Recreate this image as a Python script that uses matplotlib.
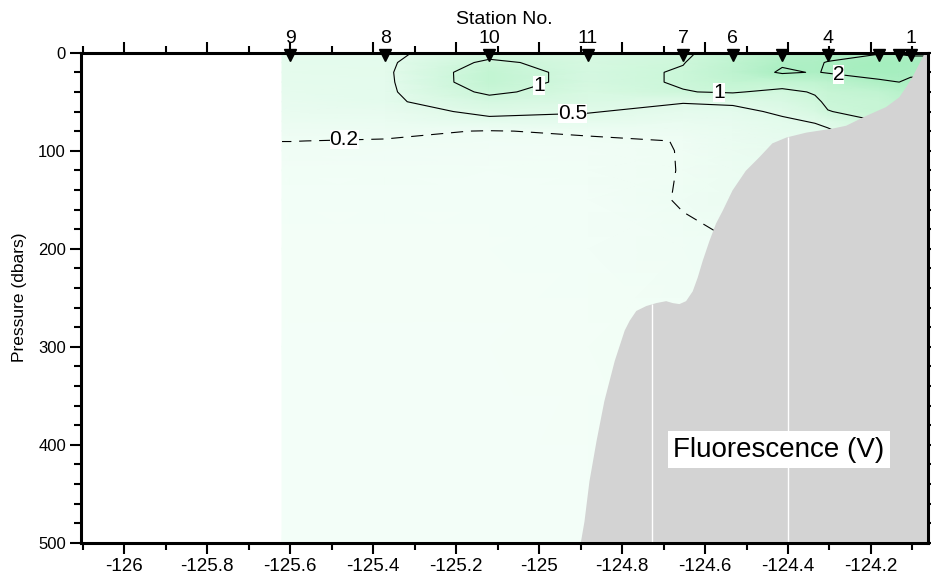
import numpy as np
import matplotlib
matplotlib.use("Agg")
import matplotlib.pyplot as plt
from matplotlib.colors import LinearSegmentedColormap
from matplotlib.transforms import blended_transform_factory

plt.rcParams['font.family'] = ['Liberation Sans', 'DejaVu Sans']

# station positions (longitude) and names along the section
station_lon = [-125.600, -125.371, -125.120, -124.882, -124.653, -124.533,
               -124.414, -124.304, -124.180, -124.132, -124.104]
station_name = ['9', '8', '10', '11', '7', '6', '', '4', '', '', '1']

# gridded fluorescence (V): rows = pressure, columns = grid_lon
grid_lon = [-125.62, -125.600, -125.371, -125.120, -124.882, -124.653, -124.533,
            -124.414, -124.335, -124.304, -124.180, -124.132, -124.104, -124.05]
grid_depth = [0, 10, 20, 30, 40, 50, 60, 70, 80, 90, 100, 120, 150, 200, 300, 500]
fluor = [
    [0.40, 0.40, 0.40, 0.80, 0.72, 0.90, 1.30, 1.70, 1.78, 1.85, 1.95, 1.95, 1.90, 1.90],
    [0.40, 0.40, 0.42, 1.10, 0.78, 0.98, 1.40, 1.90, 1.95, 2.02, 2.30, 2.25, 2.20, 2.20],
    [0.40, 0.40, 0.43, 1.30, 0.80, 1.05, 1.45, 2.10, 1.96, 2.05, 2.25, 2.20, 2.10, 2.10],
    [0.40, 0.40, 0.42, 1.30, 0.80, 1.05, 1.30, 1.30, 1.40, 1.50, 1.90, 2.00, 1.90, 1.90],
    [0.38, 0.38, 0.42, 1.10, 0.74, 0.98, 1.05, 0.85, 1.05, 1.20, 1.40, 1.60, 1.60, 1.60],
    [0.35, 0.35, 0.42, 0.80, 0.65, 0.52, 0.55, 0.70, 0.90, 1.10, 1.20, 1.40, 1.40, 1.40],
    [0.32, 0.32, 0.35, 0.58, 0.52, 0.40, 0.42, 0.55, 0.75, 0.98, 1.20, 1.20, 1.20, 1.20],
    [0.28, 0.28, 0.30, 0.42, 0.40, 0.32, 0.36, 0.45, 0.52, 0.60, 1.00, 1.00, 1.00, 1.00],
    [0.24, 0.24, 0.24, 0.19, 0.23, 0.26, 0.32, 0.40, 0.42, 0.45, 0.80, 0.80, 0.80, 0.80],
    [0.202, 0.202, 0.19, 0.16, 0.17, 0.205, 0.30, 0.36, 0.38, 0.40, 0.60, 0.60, 0.60, 0.60],
    [0.17, 0.17, 0.16, 0.15, 0.15, 0.205, 0.28, 0.34, 0.35, 0.36, 0.50, 0.50, 0.50, 0.50],
    [0.14, 0.14, 0.14, 0.13, 0.14, 0.205, 0.26, 0.30, 0.31, 0.32, 0.40, 0.40, 0.40, 0.40],
    [0.12, 0.12, 0.12, 0.12, 0.13, 0.21, 0.26, 0.28, 0.29, 0.30, 0.35, 0.35, 0.35, 0.35],
    [0.11, 0.11, 0.11, 0.11, 0.12, 0.17, 0.19, 0.25, 0.26, 0.26, 0.30, 0.30, 0.30, 0.30],
    [0.10, 0.10, 0.10, 0.10, 0.11, 0.14, 0.17, 0.22, 0.22, 0.22, 0.25, 0.25, 0.25, 0.25],
    [0.10, 0.10, 0.10, 0.10, 0.10, 0.12, 0.15, 0.20, 0.20, 0.20, 0.20, 0.20, 0.20, 0.20],
]
contour_levels = [0.2, 0.5, 1, 2]

# sea floor outline
bathy_lon = [-124.901, -124.892, -124.880, -124.863, -124.844, -124.819, -124.795,
             -124.783, -124.767, -124.743, -124.719, -124.695, -124.679, -124.663,
             -124.647, -124.631, -124.619, -124.607, -124.591, -124.575, -124.559,
             -124.535, -124.503, -124.470, -124.439, -124.405, -124.357, -124.295,
             -124.261, -124.213, -124.165, -124.133, -124.117, -124.102, -124.085,
             -124.074, -124.068, -124.0]
bathy_depth = [500, 478, 437, 396, 355, 314, 283, 273, 263, 258, 255, 253, 255, 256,
               253, 243, 229, 212, 192, 174, 161, 140, 120, 106, 92, 86, 81, 77,
               74, 64, 55, 45, 35, 25, 11, 2, 0, 0]
gap_lon = [-124.729, -124.401]  # thin seams in the bottom fill

fig = plt.figure(figsize=(9.31, 5.8), dpi=100)
ax = fig.add_axes([0.0873, 0.0643, 0.9097, 0.8448])

X, Y = np.meshgrid(grid_lon, grid_depth)
Z = np.array(fluor)

cmap = LinearSegmentedColormap.from_list(
    'fl', [(0, '#f8fffb'), (0.15, '#e6fbee'), (0.4, '#cdf7da'), (0.8, '#acefc3'), (1, '#a0edbb')])
ax.pcolormesh(X, Y, Z, shading='gouraud', cmap=cmap, vmin=0, vmax=2.5, zorder=1)

cs = ax.contour(X, Y, Z, levels=contour_levels, colors='k', linewidths=0.8, zorder=2)
cs.set_linestyles([(0, (11, 7)), 'solid', 'solid', 'solid'])

label_pos = [(-125.47, 101), (-124.92, 62), (-125.0, 33), (-124.567, 40), (-124.278, 22)]
fmt = {0.2: '0.2', 0.5: '0.5', 1: '1', 2: '2'}
labels = ax.clabel(cs, contour_levels, fmt=fmt, manual=label_pos, inline=True,
                   fontsize=15, inline_spacing=2)
for t in labels:
    t.set_rotation(0)
    t.set_bbox(dict(facecolor='white', edgecolor='none', pad=0))

# bottom
ax.fill_between(bathy_lon, bathy_depth, 500, color='#d3d3d3', lw=0, zorder=3)
gap_top = np.interp(gap_lon, bathy_lon, bathy_depth)
ax.vlines(gap_lon, gap_top, 500, color='white', lw=1, zorder=3.5)

# stations
ax.plot(station_lon, [2.5] * len(station_lon), 'kv', ms=9, clip_on=False, zorder=6)
trans = blended_transform_factory(ax.transData, ax.transAxes)
for lon, name in zip(station_lon, station_name):
    ax.text(lon, 1.02, name, transform=trans, ha='center', va='baseline', fontsize=14)
ax.text(0.5, 1.058, 'Station No.', transform=ax.transAxes, ha='center', va='baseline',
        fontsize=14)

ax.text(-124.422, 405, 'Fluorescence (V)', ha='center', va='center', fontsize=20,
        bbox=dict(facecolor='white', edgecolor='none', pad=4), zorder=7)

ax.set_xlim(-126.104, -124.062)
ax.set_ylim(500, 0)
ax.set_xticks(np.arange(-126, -124.1, 0.2))
ax.set_xticks(np.arange(-126.1, -124.05, 0.1), minor=True)
ax.set_xticklabels(['-126', '-125.8', '-125.6', '-125.4', '-125.2', '-125', '-124.8',
                    '-124.6', '-124.4', '-124.2'],
                   fontfamily=['Liberation Sans Narrow', 'Liberation Sans'], fontsize=13.5)
ax.set_yticks(np.arange(0, 501, 100))
ax.set_yticks(np.arange(0, 501, 20), minor=True)
ax.tick_params(which='both', direction='out', top=True, right=True, width=1.5, pad=3)
ax.tick_params(axis='y', labelsize=12)
ax.tick_params(which='major', length=8)
ax.tick_params(which='minor', length=5)
for s in ax.spines.values():
    s.set_linewidth(2.2)
    s.set_zorder(8)
ax.set_ylabel('Pressure (dbars)', fontsize=12.5, labelpad=8)

fig.savefig('out.png', dpi=100)
